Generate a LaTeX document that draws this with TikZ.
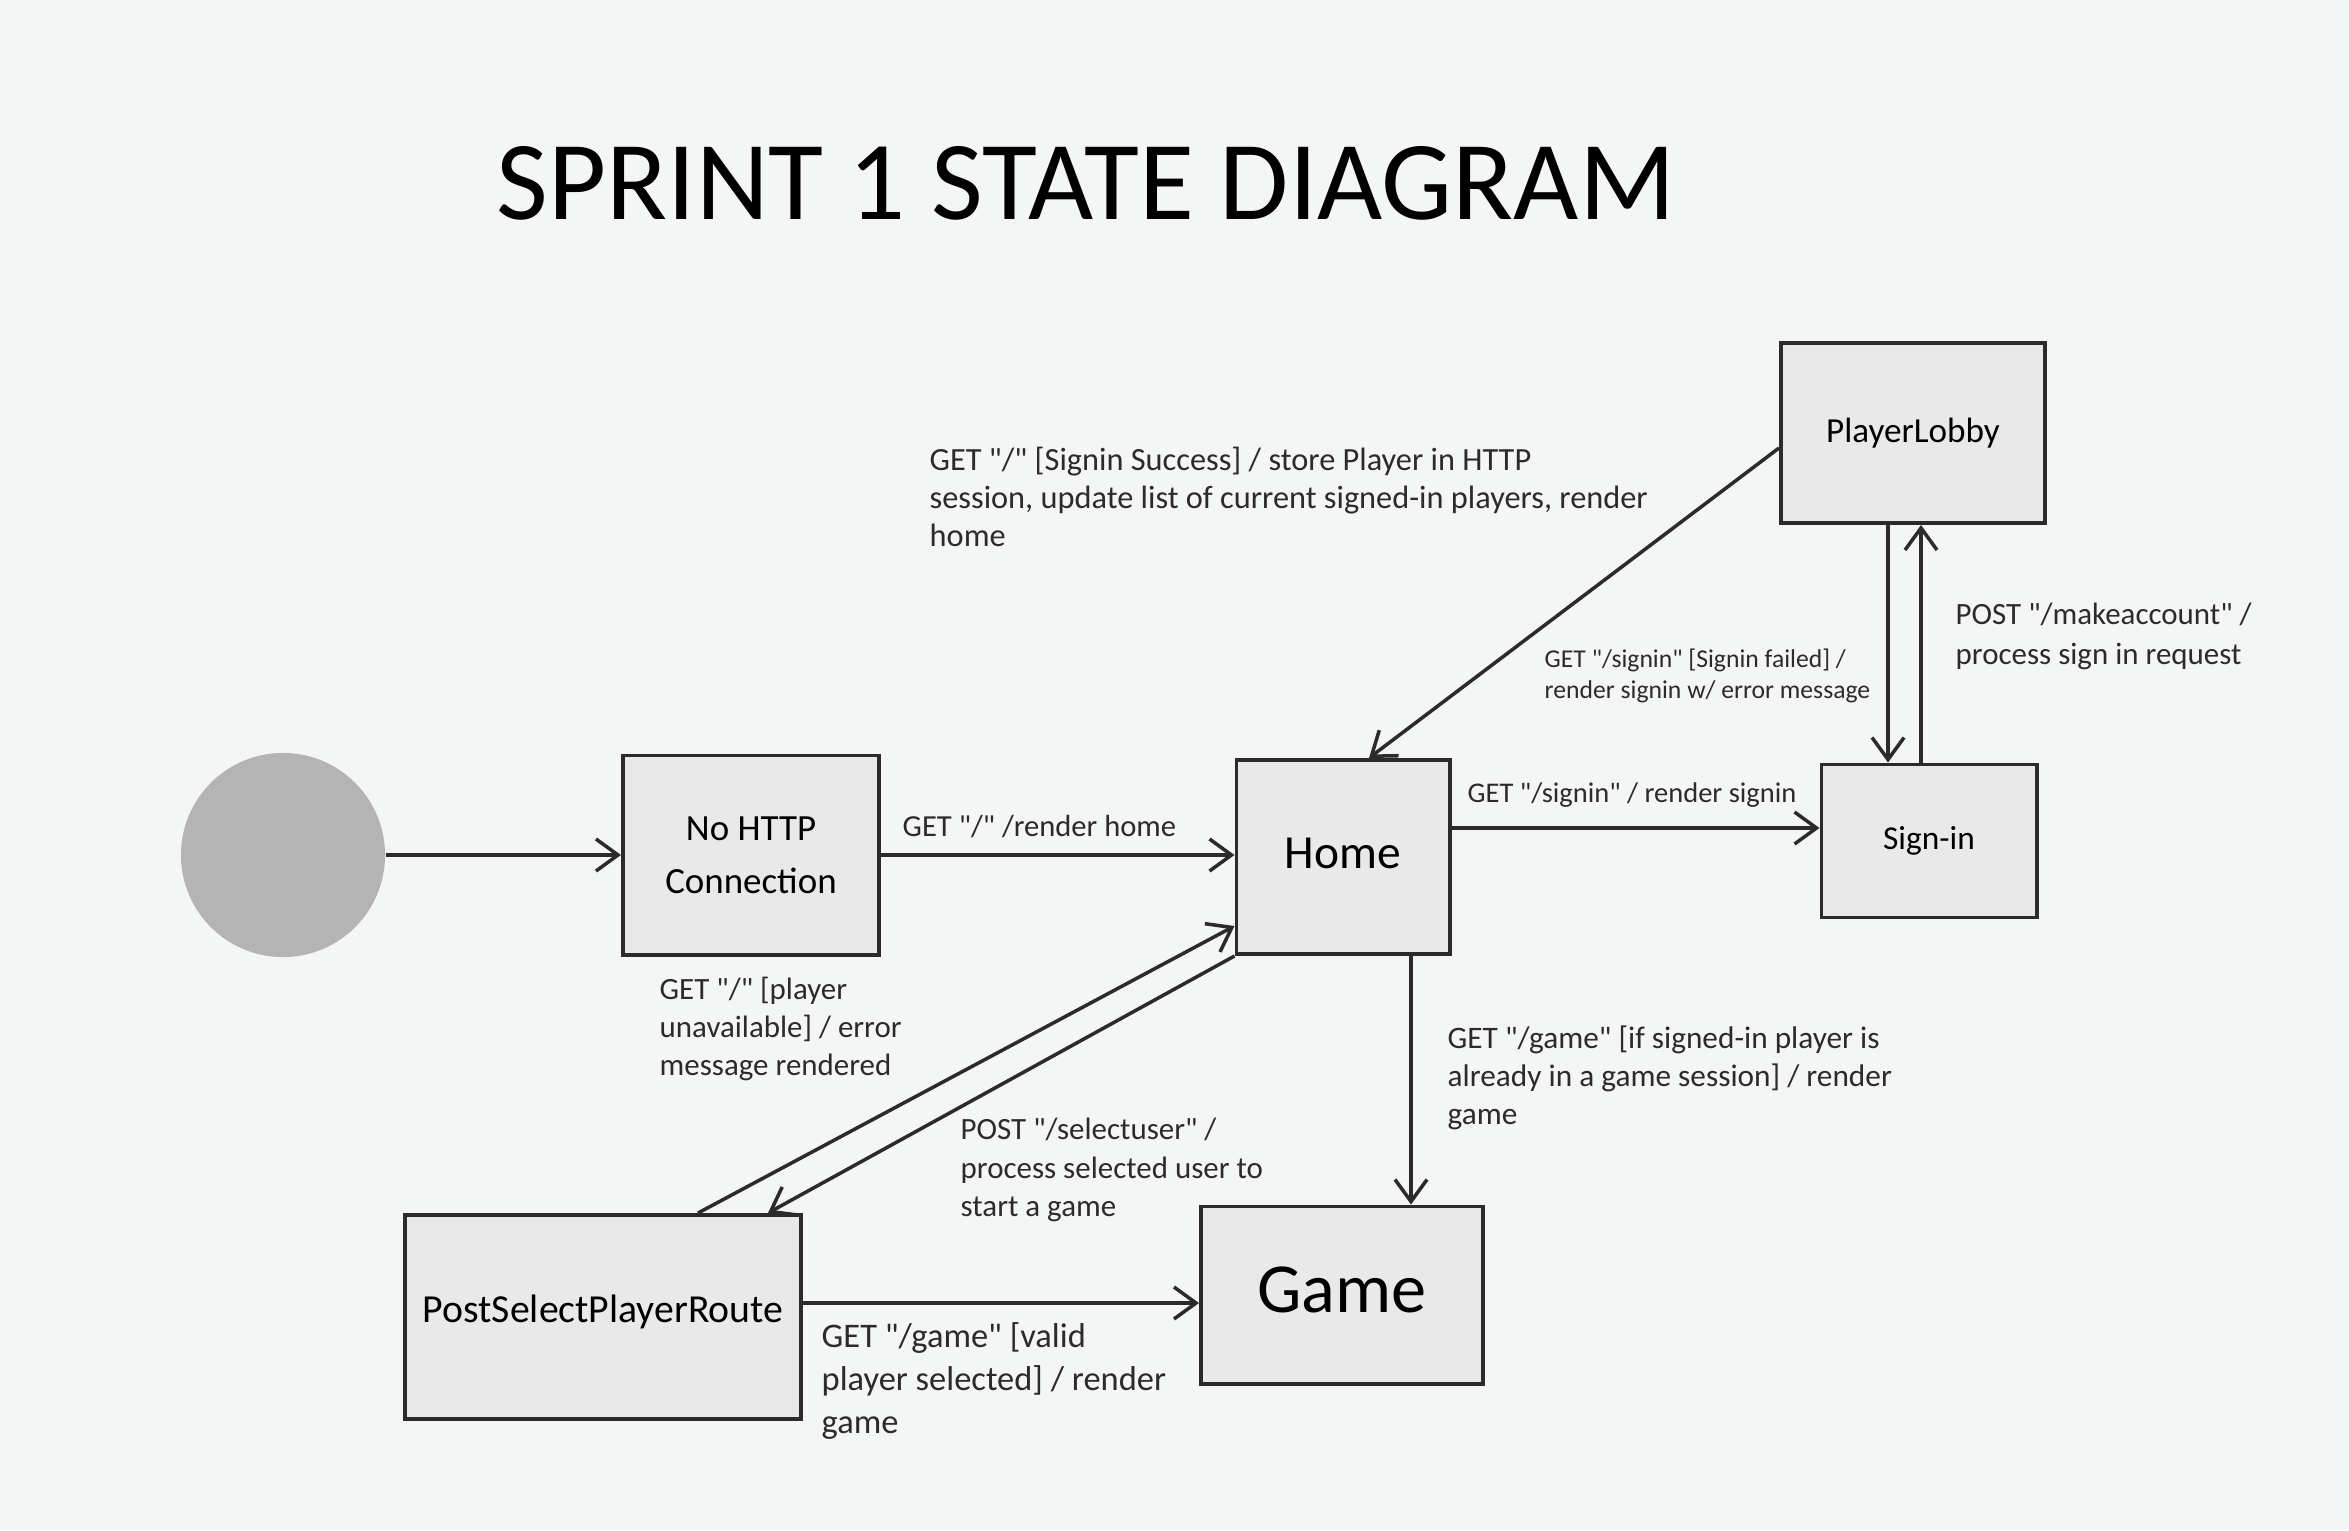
\documentclass[tikz,border=0pt]{standalone}
\usepackage{fontspec}
\setmainfont{Carlito}
\usetikzlibrary{arrows.meta,positioning,calc}

\definecolor{bgcol}{HTML}{F4F5F5}
\definecolor{boxcol}{HTML}{E9E9E9}
\definecolor{linecol}{HTML}{2B2B2B}
\definecolor{dotcol}{HTML}{B4B4B4}

\newcommand\qt{\textquotedbl}

\tikzset{
    statebox/.style={draw=linecol,fill=boxcol,line width=1.1pt,rectangle,align=center,inner sep=2pt},
    trans/.style={draw=linecol,line width=1pt,-{Straight Barb[length=2.2mm,width=3.2mm,line width=1pt]}},
    lbl/.style={anchor=west,align=left,inner sep=0pt,text=linecol},
}

\begin{document}
\begin{tikzpicture}[x=0.01cm,y=-0.01cm]

\fill[bgcol] (0,0) rectangle (2349,1530);
\useasboundingbox (0,0) rectangle (2349,1530);

\node (title) at (1086,183) {\fontsize{32}{36}\selectfont SPRINT 1 STATE DIAGRAM};

% states
\node (start) [circle,fill=dotcol,minimum size=2.04cm,inner sep=0pt] at (283,855) {};
\node (nohttp) [statebox,minimum width=2.56cm,minimum height=1.99cm,font=\fontsize{10.5}{15}\selectfont] at (751,855) {No HTTP\\Connection};
\node (home) [statebox,minimum width=2.13cm,minimum height=1.94cm,font=\fontsize{13.5}{16}\selectfont] at (1343,857) {\raisebox{0.08cm}{Home}};
\node (lobby) [statebox,minimum width=2.64cm,minimum height=1.80cm,font=\fontsize{10}{12}\selectfont] at (1913,433) {PlayerLobby};
\node (signin) [statebox,minimum width=2.15cm,minimum height=1.53cm,font=\fontsize{9.5}{12}\selectfont] at (1929,841) {\raisebox{0.05cm}{Sign-in}};
\node (postsel) [statebox,minimum width=3.95cm,minimum height=2.04cm,font=\fontsize{11.3}{13}\selectfont] at (603,1317) {\raisebox{0.16cm}{PostSelectPlayerRoute}};
\node (game) [statebox,minimum width=2.82cm,minimum height=1.77cm,font=\fontsize{20}{24}\selectfont] at (1342,1295) {\raisebox{0.1cm}{Game}};

% connector end points
\coordinate (lobbydown) at ($(lobby.south)+(-25,0)$);
\coordinate (signinup) at ($(signin.north)+(-8,0)$);
\coordinate (homedown) at ($(home.south)+(68,0)$);
\coordinate (psout) at ($(postsel.east)+(0,-14)$);

% transitions
\draw [trans] (start.east) -- (nohttp.west |- start.east);
\draw [trans] (nohttp.east) -- (home.west |- nohttp.east);
\draw [trans] ($(home.east)+(0,-29)$) -- ($(signin.west)+(0,-13)$);
\draw [trans] ($(lobby.west)+(0,15)$) -- ($(home.north)+(26,0)$);
\draw [trans] (lobbydown) -- (lobbydown |- signin.north);
\draw [trans] (signinup) -- (signinup |- lobby.south);
\draw [trans] (homedown) -- (homedown |- game.north);
\draw [trans] ($(postsel.north)+(95,0)$) -- ($(home.west)+(0,69)$);
\draw [trans] (home.south west) -- ($(postsel.north)+(165,0)$);
\draw [trans] (psout) -- (game.west |- psout);

% transition labels
\node (lsuccess) [lbl,font=\fontsize{9.2}{10.8}\selectfont] at (929,497) {GET \qt/\qt{} [Signin Success] / store Player in HTTP\\session, update list of current signed-in players, render\\home};
\node (lfailed) [lbl,font=\fontsize{7.3}{8.6}\selectfont] at (1544,676) {GET \qt/signin\qt{} [Signin failed] /\\render signin w/ error message};
\node (lmake) [lbl,font=\fontsize{8.8}{11.4}\selectfont] at (1955,636) {POST \qt/makeaccount\qt{} /\\process sign in request};
\node (lhome) [lbl,font=\fontsize{8.7}{10.8}\selectfont] at (902,827) {GET \qt/\qt{} /render home};
\node (lsignin) [lbl,font=\fontsize{8.1}{10}\selectfont] at (1467,795) {GET \qt/signin\qt{} / render signin};
\node (lunavail) [lbl,font=\fontsize{8.8}{10.9}\selectfont] at (659,1029) {GET \qt/\qt{} [player\\unavailable] / error\\message rendered};
\node (lselect) [lbl,font=\fontsize{8.8}{10.9}\selectfont] at (960,1170) {POST \qt/selectuser\qt{} /\\process selected user to\\start a game};
\node (lgame) [lbl,font=\fontsize{8.9}{10.9}\selectfont] at (1447,1078) {GET \qt/game\qt{} [if signed-in player is\\already in a game session] / render\\game};
\node (lvalid) [lbl,font=\fontsize{9.8}{12.2}\selectfont] at (821,1381) {GET \qt/game\qt{} [valid\\player selected] / render\\game};

\end{tikzpicture}
\end{document}
